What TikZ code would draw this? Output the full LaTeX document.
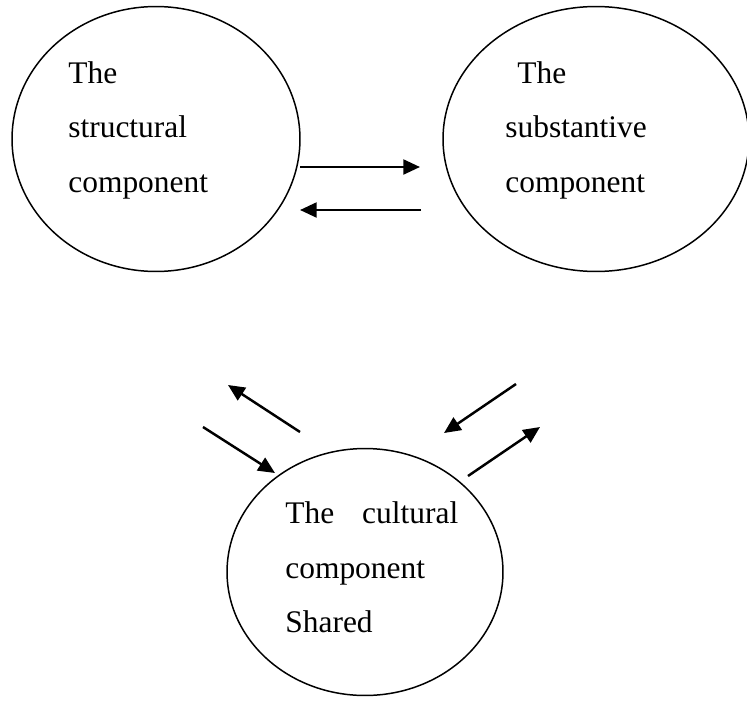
\documentclass[tikz,border=0pt]{standalone}
\usepackage{fontspec}
\setmainfont{Liberation Serif}
\usetikzlibrary{arrows.meta, shapes.geometric}

\begin{document}
\begin{tikzpicture}[x=0.02cm, y=-0.02cm,
	blob/.style={draw, ellipse, line width=0.85pt, inner sep=0pt},
	label/.style={anchor=base west, inner sep=0pt, align=left, text width=4cm,
		font=\fontsize{17.9}{31.3}\selectfont},
	link/.style={line width=1.4pt, -{Triangle[length=9.5pt, width=8.5pt]}}]
	\useasboundingbox (0,0) rectangle (747,707);

	% the three components
	\node[blob, minimum width=5.76cm, minimum height=5.3cm] (struct) at (156,139) {};
	\node[blob, minimum width=6.12cm, minimum height=5.3cm] (subst) at (596,139) {};
	\node[blob, minimum width=5.52cm, minimum height=4.94cm] (cult) at (365,572) {};

	\node[label] (structtext) at (68,83) {The\\ structural\\ component};
	\node[label] (substtext) at (505,83) {\hspace{0.24cm}The\\ substantive\\ component};
	\node[label] (culttext) at (285,523) {The\hspace{0.56cm}cultural\\ component\\ Shared};

	% arrow ends
	\coordinate (r1a) at (300,167);	\coordinate (r1b) at (420,167);
	\coordinate (r2a) at (421,210);	\coordinate (r2b) at (300,210);
	\coordinate (ua) at (300,432);	\coordinate (ub) at (228,385);
	\coordinate (va) at (203,427);	\coordinate (vb) at (275,473);
	\coordinate (wa) at (516,384);	\coordinate (wb) at (444,433);
	\coordinate (za) at (468,476);	\coordinate (zb) at (540,427);

	\draw[link] (r1a) -- (r1b);
	\draw[link] (r2a) -- (r2b);
	\draw[link] (ua) -- (ub);
	\draw[link] (va) -- (vb);
	\draw[link] (wa) -- (wb);
	\draw[link] (za) -- (zb);
\end{tikzpicture}
\end{document}
